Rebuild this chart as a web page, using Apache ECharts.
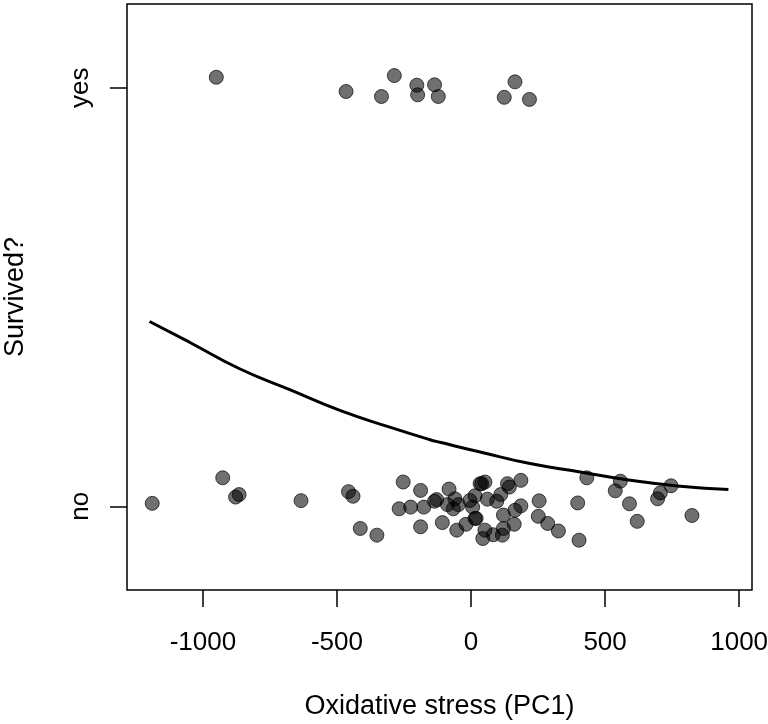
<!DOCTYPE html>
<html>
<head>
<meta charset="utf-8">
<script src="https://cdn.jsdelivr.net/npm/echarts@6/dist/echarts.min.js"></script>
<style>html,body{margin:0;padding:0;background:#fff}#c{width:768px;height:724px}</style>
</head>
<body>
<div id="c"></div>
<script>
// Survived = yes (jittered around 1)
const yesX = [-950, -466, -334, -286, -202, -199, -136, -122, 124, 164, 218];
const yesY = [1.025, 0.991, 0.979, 1.029, 1.006, 0.983, 1.007, 0.979, 0.977, 1.014, 0.972];
// Survived = no (jittered around 0)
const noX = [-1189, -926, -878, -865, -634, -457, -440, -413, -351, -253, -188, -268, -225, -176,
  -136, -128, -188, -107, -82, -88, -60, -66, -47, -4, 15, 6, 15, 34, 52, 40, 61, 96, 111, 136, 143,
  186, 121, 164, 186, 254, 251, 286, 19, 52, 44, 83, 117, 121, 161, 326, -53, -19, 398, 403, 432,
  538, 557, 591, 620, 696, 706, 746, 824];
const noY = [0.007, 0.068, 0.022, 0.028, 0.0135, 0.035, 0.024, -0.053, -0.069, 0.058, 0.038, -0.006,
  -0.002, -0.002, 0.012, 0.016, -0.049, -0.039, 0.041, 0.004, 0.018, -0.006, 0.004, 0.014, 0.025,
  -0.002, -0.029, 0.054, 0.058, 0.054, 0.017, 0.012, 0.028, 0.054, 0.046, 0.062, -0.021, -0.0095,
  0.001, 0.013, -0.024, -0.041, -0.029, -0.057, -0.077, -0.068, -0.069, -0.053, -0.043, -0.059,
  -0.057, -0.043, 0.008, -0.081, 0.068, 0.037, 0.060, 0.006, -0.036, 0.018, 0.032, 0.049, -0.022];
// fitted curve
const curveX = [-1199, -1050, -863, -676, -489, -303, -153, -116, 34, 220, 407, 594, 781, 960];
const curveY = [0.4415, 0.392, 0.3286, 0.2785, 0.229, 0.189, 0.159, 0.153, 0.1296, 0.102, 0.082, 0.062, 0.048, 0.040];
const xTicks = [-1000, -500, 0, 500, 1000];
const yTicks = [0, 1];
const yTickLabels = ['no', 'yes'];

const zip = (a, b) => a.map((v, i) => [v, b[i]]);
const font = 'Liberation Sans, Arial, sans-serif';
const chart = echarts.init(document.getElementById('c'), null, {renderer: 'canvas'});
chart.setOption({
  animation: false,
  backgroundColor: '#fff',
  grid: {left: 127, right: 16, top: 4, bottom: 134, show: true, borderColor: '#000', borderWidth: 1.5,
    backgroundColor: 'transparent', outerBoundsMode: 'none', containLabel: false},
  xAxis: {
    type: 'value', min: -1283, max: 1048,
    name: 'Oxidative stress (PC1)', nameLocation: 'middle', nameGap: 103,
    nameTextStyle: {fontFamily: font, fontSize: 27, color: '#000'},
    axisLine: {show: false, onZero: false},
    axisTick: {show: true, length: 17, customValues: xTicks, lineStyle: {color: '#000', width: 1.5}},
    axisLabel: {customValues: xTicks, margin: 40, fontFamily: font, fontSize: 26, color: '#000',
      formatter: v => String(v)},
    splitLine: {show: false}
  },
  yAxis: {
    type: 'value', min: -0.2, max: 1.2,
    name: 'Survived?', nameLocation: 'middle', nameGap: 98,
    nameTextStyle: {fontFamily: font, fontSize: 27, color: '#000'},
    axisLine: {show: false, onZero: false},
    axisTick: {show: true, length: 17, customValues: yTicks, lineStyle: {color: '#000', width: 1.5}},
    axisLabel: {customValues: yTicks, rotate: 90, margin: 33, fontFamily: font, fontSize: 26, color: '#000',
      formatter: v => yTickLabels[yTicks.indexOf(Math.round(v))] || ''},
    splitLine: {show: false}
  },
  series: [
    {type: 'scatter', data: zip(yesX, yesY), symbolSize: 14,
      itemStyle: {color: 'rgba(0,0,0,0.7)', borderColor: 'rgba(0,0,0,0.85)', borderWidth: 1}},
    {type: 'scatter', data: zip(noX, noY), symbolSize: 14,
      itemStyle: {color: 'rgba(0,0,0,0.7)', borderColor: 'rgba(0,0,0,0.85)', borderWidth: 1}},
    {type: 'line', data: zip(curveX, curveY), smooth: true, showSymbol: false, symbol: 'none',
      lineStyle: {color: '#000', width: 3}, z: 5}
  ]
});
</script>
</body>
</html>
